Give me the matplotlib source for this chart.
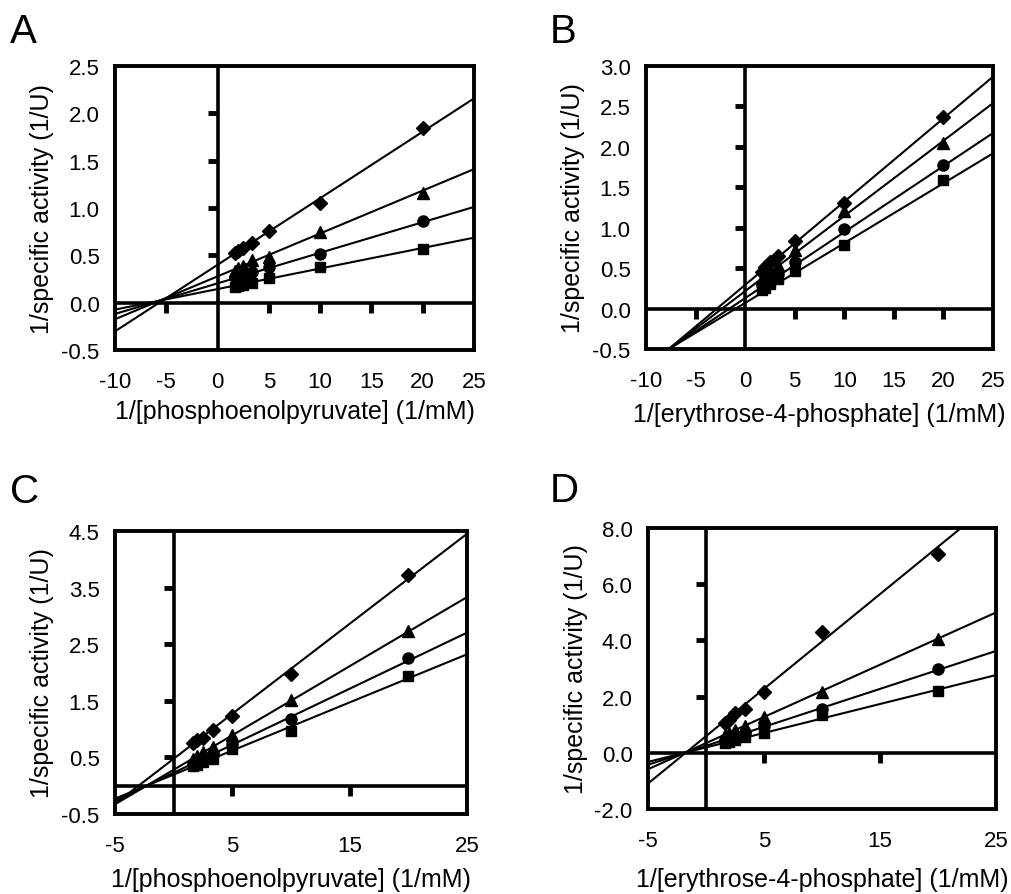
"""Double-reciprocal (Lineweaver-Burk) plots for four substrate titrations."""

import matplotlib

matplotlib.use("Agg")

import matplotlib.pyplot as plt
from matplotlib.markers import TICKDOWN, TICKLEFT
import numpy as np

plt.rcParams["font.family"] = ["Liberation Sans", "DejaVu Sans"]

# 1/[S] values used in every panel (1/mM)
inv_s = [20, 10, 5, 3.33, 2.5, 2, 1.67]

series_markers = ["D", "^", "o", "s"]
series_sizes = [7, 8, 8, 7]

# panel A: 1/v vs 1/[PEP]
a_diamond = [1.85, 1.05, 0.76, 0.63, 0.58, 0.55, 0.53]
a_triangle = [1.16, 0.75, 0.48, 0.45, 0.39, 0.37, 0.33]
a_circle = [0.86, 0.51, 0.38, 0.32, 0.30, 0.28, 0.27]
a_square = [0.57, 0.38, 0.26, 0.21, 0.19, 0.18, 0.17]
a_slopes = [0.0703, 0.0453, 0.0323, 0.0217]
a_intercepts = [0.40, 0.278, 0.204, 0.144]

# panel B: 1/v vs 1/[E4P]
b_diamond = [2.37, 1.31, 0.84, 0.65, 0.58, 0.51, 0.45]
b_triangle = [2.05, 1.21, 0.72, 0.54, 0.46, 0.41, 0.37]
b_circle = [1.78, 0.98, 0.58, 0.43, 0.36, 0.32, 0.29]
b_square = [1.59, 0.79, 0.47, 0.36, 0.30, 0.26, 0.23]
b_slopes = [0.103, 0.093, 0.0817, 0.074]
b_intercepts = [0.293, 0.216, 0.129, 0.07]

# panel C: 1/v vs 1/[PEP]
c_diamond = [3.73, 1.97, 1.23, 0.99, 0.85, 0.81, 0.76]
c_triangle = [2.73, 1.52, 0.89, 0.69, 0.59, 0.53, 0.48]
c_circle = [2.26, 1.18, 0.73, 0.55, 0.48, 0.43, 0.39]
c_square = [1.94, 0.97, 0.64, 0.48, 0.41, 0.37, 0.34]
c_slopes = [0.159, 0.122, 0.099, 0.085]
c_intercepts = [0.475, 0.281, 0.228, 0.196]

# panel D: 1/v vs 1/[E4P]
d_diamond = [7.08, 4.30, 2.17, 1.57, 1.40, 1.18, 1.07]
d_triangle = [4.06, 2.17, 1.28, 0.95, 0.82, 0.71, 0.65]
d_circle = [2.99, 1.57, 0.95, 0.70, 0.60, 0.52, 0.47]
d_square = [2.19, 1.34, 0.72, 0.55, 0.46, 0.40, 0.36]
d_slopes = [0.337, 0.186, 0.135, 0.103]
d_intercepts = [0.59, 0.343, 0.248, 0.19]

pep_label = "1/[phosphoenolpyruvate] (1/mM)"
e4p_label = "1/[erythrose-4-phosphate] (1/mM)"
y_label = "1/specific activity (1/U)"


def draw_panel(fig, rect, letter, letter_xy, series, slopes, intercepts,
               xlim, xticks, ylim, yticks, xlabel, xlabelpad,
               zero_xticks, zero_yticks):
    ax = fig.add_axes(rect)
    for vals, mk, ms in zip(series, series_markers, series_sizes):
        ax.plot(inv_s, vals, linestyle="none", marker=mk, markersize=ms,
                color="black", zorder=4)
    xx = np.array(xlim)
    for b1, b0 in zip(slopes, intercepts):
        ax.plot(xx, b0 + b1 * xx, color="black", linewidth=1.5, zorder=3)

    # axes crossing at zero, Excel style, ticks sit on those lines
    ax.axhline(0, color="black", linewidth=2.6, zorder=2)
    ax.axvline(0, color="black", linewidth=2.6, zorder=2)
    ax.plot(zero_xticks, [0] * len(zero_xticks), linestyle="none",
            marker=TICKDOWN, markersize=7, mew=3.5, color="black", zorder=2)
    ax.plot([0] * len(zero_yticks), zero_yticks, linestyle="none",
            marker=TICKLEFT, markersize=7, mew=3.5, color="black", zorder=2)

    ax.set_xlim(xlim)
    ax.set_ylim(ylim)
    ax.set_xticks(xticks)
    ax.set_yticks(yticks)
    ax.set_xticklabels([str(t) for t in xticks])
    ax.set_yticklabels(["{:.1f}".format(t) for t in yticks])
    ax.tick_params(axis="x", length=0, pad=15, labelsize=16)
    ax.tick_params(axis="y", length=0, pad=11, labelsize=16)
    for sp in ax.spines.values():
        sp.set_linewidth(2.8)
    ax.set_xlabel(xlabel, fontsize=18, labelpad=xlabelpad)
    ax.set_ylabel(y_label, fontsize=18, labelpad=5)
    fig.text(letter_xy[0], letter_xy[1], letter, fontsize=29, ha="left", va="top")
    return ax


fig = plt.figure(figsize=(10.12, 8.95), dpi=100)

draw_panel(fig, [0.1136, 0.6078, 0.3547, 0.3173], "A", (0.010, 0.985),
           [a_diamond, a_triangle, a_circle, a_square], a_slopes, a_intercepts,
           (-10, 25), [-10, -5, 0, 5, 10, 15, 20, 25], (-0.5, 2.5),
           [-0.5, 0.0, 0.5, 1.0, 1.5, 2.0, 2.5], pep_label, 5,
           [-5, 5, 10, 15, 20], [0.5, 1.0, 1.5, 2.0])

draw_panel(fig, [0.6383, 0.6089, 0.3429, 0.3162], "B", (0.543, 0.985),
           [b_diamond, b_triangle, b_circle, b_square], b_slopes, b_intercepts,
           (-10, 25), [-10, -5, 0, 5, 10, 15, 20, 25], (-0.5, 3.0),
           [-0.5, 0.0, 0.5, 1.0, 1.5, 2.0, 2.5, 3.0], e4p_label, 8,
           [-5, 5, 10, 15, 20], [0.5, 1.0, 1.5, 2.0, 2.5])

draw_panel(fig, [0.1136, 0.0894, 0.3478, 0.3162], "C", (0.010, 0.471),
           [c_diamond, c_triangle, c_circle, c_square], c_slopes, c_intercepts,
           (-5, 25), [-5, 5, 15, 25], (-0.5, 4.5),
           [-0.5, 0.5, 1.5, 2.5, 3.5, 4.5], pep_label, 8,
           [5, 15], [0.5, 1.5, 2.5, 3.5])

draw_panel(fig, [0.6403, 0.0950, 0.3439, 0.3140], "D", (0.543, 0.473),
           [d_diamond, d_triangle, d_circle, d_square], d_slopes, d_intercepts,
           (-5, 25), [-5, 5, 15, 25], (-2.0, 8.0),
           [-2.0, 0.0, 2.0, 4.0, 6.0, 8.0], e4p_label, 12,
           [5, 15], [2.0, 4.0, 6.0])

fig.savefig("out.png", dpi=100)
plt.close(fig)
